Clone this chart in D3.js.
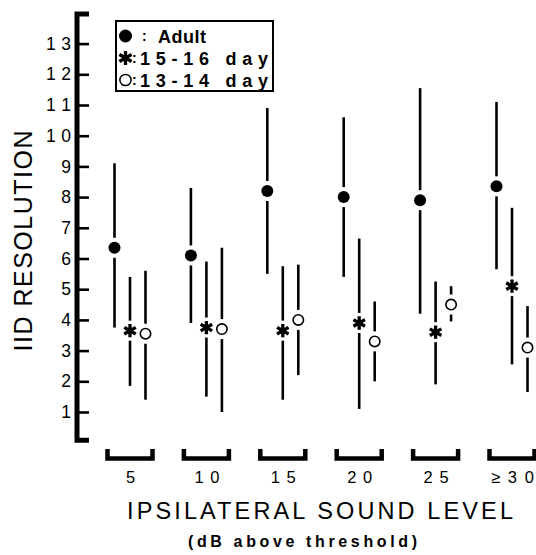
<!DOCTYPE html>
<html>
<head>
<meta charset="utf-8">
<script src="https://cdn.jsdelivr.net/npm/d3@7"></script>
<style>
  html, body { margin: 0; padding: 0; background: #fff; }
  svg { display: block; }
  text { font-family: "Liberation Sans", Arial, sans-serif; fill: #000; }
</style>
</head>
<body>
<svg id="chart" width="536" height="555"></svg>
<script>
// Sound levels (dB above threshold)
const levels = ["5", "10", "15", "20", "25", "≥30"];

// Adult: median and range of IID resolution
const adultMid  = [6.35, 6.1, 8.2, 8.0, 7.9, 8.35];
const adultHigh = [9.1, 8.3, 10.9, 10.6, 11.55, 11.1];
const adultLow  = [3.75, 3.9, 5.5, 5.4, 4.2, 5.65];

// 15-16 day animals
const d15Mid  = [3.65, 3.75, 3.65, 3.9, 3.6, 5.1];
const d15High = [5.4, 5.9, 5.75, 6.65, 5.25, 7.65];
const d15Low  = [1.85, 1.5, 1.4, 1.1, 1.9, 2.55];

// 13-14 day animals
const d13Mid  = [3.55, 3.7, 4.0, 3.3, 4.5, 3.1];
const d13High = [5.6, 6.35, 5.8, 4.6, 5.1, 4.45];
const d13Low  = [1.4, 1.0, 2.2, 2.0, 3.95, 1.65];

const groupNames = ["Adult", "15-16 day", "13-14 day"];
const yTicks = [1, 2, 3, 4, 5, 6, 7, 8, 9, 10, 11, 12, 13];

const svg = d3.select("#chart");

const y = d3.scaleLinear().domain([0, 14]).range([442.7, 12.9]);
const x = d3.scalePoint().domain(levels).range([130, 512]);
const offset = d3.scalePoint().domain(groupNames).range([-15.5, 15.5]);

const series = [
  { name: groupNames[0], mid: adultMid, hi: adultHigh, lo: adultLow, kind: "dot" },
  { name: groupNames[1], mid: d15Mid, hi: d15High, lo: d15Low, kind: "star" },
  { name: groupNames[2], mid: d13Mid, hi: d13High, lo: d13Low, kind: "ring" }
];

// ---- y axis ----
const axisX = 79;
const yAxis = svg.append("g")
  .attr("transform", `translate(${axisX},0)`)
  .call(d3.axisLeft(y).tickValues(yTicks).tickSizeInner(-10).tickSizeOuter(0).tickPadding(8).tickFormat(d3.format("d")));
yAxis.select(".domain").remove();
yAxis.selectAll(".tick line").attr("stroke", "#000").attr("stroke-width", 2.6);
yAxis.selectAll(".tick text")
  .attr("font-size", 17.5)
  .attr("textLength", d => d >= 10 ? 25 : null)
  .attr("lengthAdjust", "spacing");

// thick spine with feet at top and bottom
svg.append("path")
  .attr("d", `M${axisX + 10},${y(14) + 1} H${axisX - 2} V${y(0) - 2.5} H${axisX + 10}`)
  .attr("fill", "none").attr("stroke", "#000").attr("stroke-width", 5)
  .attr("stroke-linejoin", "miter");

// y title
svg.append("text")
  .attr("transform", `translate(32,${(130 + 352) / 2}) rotate(-90)`)
  .attr("text-anchor", "middle")
  .attr("font-size", 25)
  .attr("textLength", 221).attr("lengthAdjust", "spacing")
  .text("IID RESOLUTION");

// ---- x axis: brackets and labels ----
const xAxis = svg.append("g")
  .attr("transform", "translate(0,483)")
  .call(d3.axisBottom(x).tickSize(0).tickPadding(0));
xAxis.select(".domain").remove();
xAxis.selectAll(".tick text")
  .attr("dy", 0)
  .attr("font-size", 16.5)
  .attr("textLength", d => d.length === 1 ? null : (d.length === 2 ? 25 : 43))
  .attr("lengthAdjust", "spacing");

svg.append("g").selectAll("path")
  .data(levels)
  .join("path")
  .attr("d", c => `M${x(c) - 22.5},449 V458.5 H${x(c) + 22.5} V449`)
  .attr("fill", "none").attr("stroke", "#000").attr("stroke-width", 4.5)
  .attr("stroke-linejoin", "miter");

svg.append("text")
  .attr("x", 127).attr("y", 519)
  .attr("font-size", 23.5)
  .attr("textLength", 386).attr("lengthAdjust", "spacing")
  .text("IPSILATERAL SOUND LEVEL");

svg.append("text")
  .attr("x", 188).attr("y", 547)
  .attr("font-size", 16).attr("font-weight", "bold")
  .attr("textLength", 229).attr("lengthAdjust", "spacing")
  .text("(dB above threshold)");

// ---- markers ----
const starPath = d3.symbol().type(d3.symbolAsterisk).size(125)();

function drawMarker(g, kind) {
  if (kind === "dot") {
    g.append("circle").attr("r", 6).attr("fill", "#000");
  } else if (kind === "star") {
    g.append("path").attr("d", starPath).attr("fill", "none")
      .attr("stroke", "#000").attr("stroke-width", 3.3);
  } else {
    g.append("circle").attr("r", 5.2).attr("fill", "#fff")
      .attr("stroke", "#000").attr("stroke-width", 1.6);
  }
}

// ---- range bars, broken around the marker ----
const gap = 10;
series.forEach(s => {
  const g = svg.append("g");
  levels.forEach((c, i) => {
    const cx = x(c) + offset(s.name);
    const cy = y(s.mid[i]);
    g.append("line")
      .attr("x1", cx).attr("x2", cx)
      .attr("y1", y(s.hi[i])).attr("y2", cy - gap)
      .attr("stroke", "#000").attr("stroke-width", 2.6);
    g.append("line")
      .attr("x1", cx).attr("x2", cx)
      .attr("y1", cy + gap).attr("y2", y(s.lo[i]))
      .attr("stroke", "#000").attr("stroke-width", 2.6);
    const m = g.append("g").attr("transform", `translate(${cx},${cy})`);
    drawMarker(m, s.kind);
  });
});

// ---- legend ----
const legend = svg.append("g");
legend.append("rect")
  .attr("x", 116).attr("y", 21).attr("width", 157).attr("height", 70)
  .attr("fill", "#fff").attr("stroke", "#000").attr("stroke-width", 2);

const rowY = [36, 58, 80];
const colonX = [142, 132, 132];
const labelX = [158, 140, 140];
const labelW = [48, 128, 128];
series.forEach((s, i) => {
  const m = legend.append("g").attr("transform", `translate(125.5,${rowY[i]})`);
  if (s.kind === "dot") {
    m.append("circle").attr("r", 6.5).attr("fill", "#000");
  } else if (s.kind === "star") {
    m.append("path").attr("d", d3.symbol().type(d3.symbolAsterisk).size(140)())
      .attr("fill", "none").attr("stroke", "#000").attr("stroke-width", 3.3);
  } else {
    m.append("circle").attr("r", 5.6).attr("fill", "#fff")
      .attr("stroke", "#000").attr("stroke-width", 1.5);
  }
  legend.append("text")
    .attr("x", colonX[i]).attr("y", rowY[i] + 5)
    .attr("font-size", 14).attr("font-weight", "bold")
    .text(":");
  legend.append("text")
    .attr("x", labelX[i]).attr("y", rowY[i] + 6.5)
    .attr("font-size", 18).attr("font-weight", "bold")
    .attr("textLength", labelW[i]).attr("lengthAdjust", "spacing")
    .text(s.name);
});
</script>
</body>
</html>
